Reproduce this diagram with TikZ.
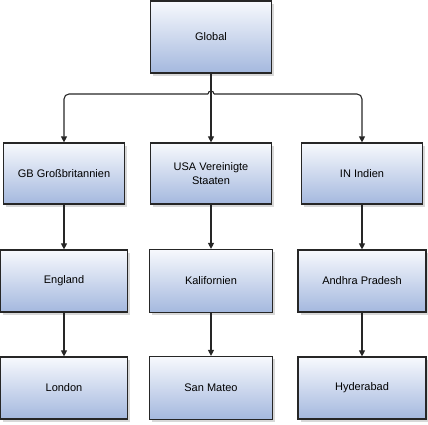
\documentclass[tikz,border=0pt]{standalone}
\usepackage{fontspec}
\setmainfont{Liberation Sans}
\usetikzlibrary{arrows.meta, shadows, positioning}

\definecolor{boxtop}{RGB}{247,249,253}
\definecolor{boxbottom}{RGB}{164,184,222}
\definecolor{boxline}{RGB}{38,38,38}

\begin{document}
\begin{tikzpicture}[x=1pt, y=-1pt,
      unit/.style={draw=boxline, line width=1.2pt, top color=boxtop, bottom color=boxbottom,
        drop shadow={shadow xshift=2.5pt, shadow yshift=-2.5pt, fill=black!30},
        align=center, inner sep=2pt, font=\fontsize{11}{13.5}\selectfont},
      link/.style={draw=black!85, line width=1.1pt, -{Triangle[length=6pt,width=6pt]}},
      wire/.style={draw=black!85, line width=1.1pt}]
      \useasboundingbox (0,0) rectangle (428,424);
      % top
      \node[unit, minimum width=121pt, minimum height=72pt] (global) at (211,37) {Global};
      % countries
      \node[unit, minimum width=121pt, minimum height=61pt] (gb) at (64,173.5) {GB Großbritannien};
      \node[unit, minimum width=121pt, minimum height=61pt] (usa) at (211,173.5) {USA Vereinigte\\Staaten};
      \node[unit, minimum width=121pt, minimum height=61pt] (in) at (362,173.5) {IN Indien};
      % regions
      \node[unit, minimum width=127pt, minimum height=62pt] (eng) at (64,281) {England};
      \node[unit, minimum width=123pt, minimum height=63pt] (cal) at (211,281) {Kalifornien};
      \node[unit, minimum width=128pt, minimum height=62pt] (ap) at (362,281) {Andhra Pradesh};
      % cities
      \node[unit, minimum width=127pt, minimum height=62pt] (lon) at (64,388) {London};
      \node[unit, minimum width=123pt, minimum height=63pt] (smt) at (211,388) {San Mateo};
      \node[unit, minimum width=128pt, minimum height=62pt] (hyd) at (362,388) {Hyderabad};

      \coordinate (hub) at (global.south |- 0,94);
      \draw[link] (global.south) -- (global.south |- usa.north);
      \draw[link, rounded corners=5pt] ([xshift=-3pt]hub) -| (gb.north);
      \draw[link, rounded corners=5pt] ([xshift=3pt]hub) -| (in.north);
      \draw[wire] ([xshift=-3pt]hub) arc[start angle=180, end angle=0, radius=3pt];
      \foreach \a/\b in {gb/eng, eng/lon, usa/cal, cal/smt, in/ap, ap/hyd}
        \draw[link] (\a.south) -- (\b.north);
    \end{tikzpicture}
\end{document}
